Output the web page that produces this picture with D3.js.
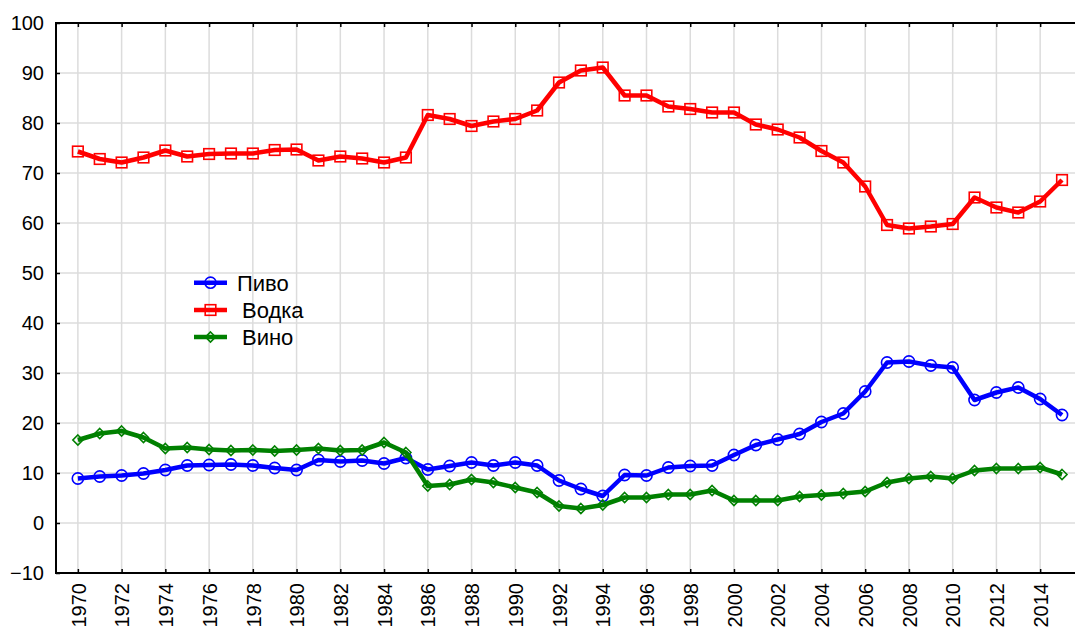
<!DOCTYPE html>
<html><head><meta charset="utf-8">
<script src="https://d3js.org/d3.v7.min.js"></script>
<style>body{margin:0;background:#fff}svg{display:block}text{font-family:"Liberation Sans",Arial,sans-serif}</style>
</head><body><svg id="c" width="1075" height="630"></svg>
<script>
const years = d3.range(1970, 2016);
const beer = [8.9,9.3,9.5,9.9,10.6,11.5,11.6,11.7,11.5,11.0,10.6,12.6,12.3,12.5,11.9,13.0,10.7,11.4,12.1,11.5,12.1,11.5,8.5,6.8,5.4,9.6,9.5,11.1,11.4,11.5,13.6,15.6,16.7,17.8,20.2,21.9,26.3,32.1,32.3,31.5,31.1,24.6,26.1,27.1,24.8,21.6];
const vodka = [74.3,72.8,72.1,73.1,74.5,73.3,73.8,73.9,73.9,74.6,74.7,72.5,73.3,72.9,72.1,73.1,81.6,80.8,79.4,80.3,80.8,82.5,88.1,90.5,91.1,85.5,85.5,83.3,82.8,82.1,82.1,79.7,78.7,77.1,74.4,72.1,67.3,59.6,58.9,59.3,59.8,65.1,63.1,62.1,64.3,68.6];
const wine = [16.6,17.9,18.4,17.1,14.9,15.1,14.7,14.5,14.6,14.4,14.6,14.9,14.5,14.6,16.1,14.1,7.4,7.7,8.7,8.1,7.1,6.1,3.4,2.9,3.6,5.1,5.1,5.7,5.7,6.5,4.5,4.5,4.5,5.3,5.6,5.9,6.3,8.1,8.9,9.3,8.9,10.5,10.9,10.9,11.1,9.7];
const seriesNames = ["Пиво","Водка","Вино"];
const yTicks = d3.range(-10, 101, 10);
const xTicks = d3.range(1970, 2015, 2);

const svg = d3.select("#c");
const mLeft = 56, mTop = 23, mBottom = 573, mRight = 1080;
const x = d3.scaleLinear().domain([1969, 2016]).range([mLeft, mLeft + 47*21.87]);
const y = d3.scaleLinear().domain([-10, 100]).range([mBottom, mTop]);

// grid
svg.append("g").selectAll("line").data(yTicks.filter(v=>v>-10&&v<100)).join("line")
  .attr("x1", mLeft).attr("x2", mRight).attr("y1", d=>y(d)).attr("y2", d=>y(d))
  .attr("stroke", "#dcdcdc").attr("stroke-width", 1.5);
svg.append("g").selectAll("line").data(xTicks).join("line")
  .attr("y1", mTop).attr("y2", mBottom).attr("x1", d=>x(d)).attr("x2", d=>x(d))
  .attr("stroke", "#dcdcdc").attr("stroke-width", 1.5);

// axes
const yAxis = d3.axisLeft(y).tickValues(yTicks).tickSize(-4).tickPadding(12).tickFormat(d3.format("d"));
const gy = svg.append("g").attr("transform", `translate(${mLeft},0)`).call(yAxis);
gy.select(".domain").remove();
gy.selectAll("line").attr("stroke", "#000").attr("stroke-width", 1.5);
gy.selectAll("text").attr("font-size", 20).attr("fill", "#000").style("font-family", '"Liberation Sans",Arial,sans-serif');

const xAxis = d3.axisBottom(x).tickValues(xTicks).tickSize(-4).tickFormat(d3.format("d"));
const gx = svg.append("g").attr("transform", `translate(0,${mBottom})`).call(xAxis);
gx.select(".domain").remove();
gx.selectAll("line").attr("stroke", "#000").attr("stroke-width", 1.5);
gx.selectAll("text").attr("font-size", 20).attr("fill", "#000")
  .style("font-family", '"Liberation Sans",Arial,sans-serif')
  .attr("text-anchor", "end").attr("transform", "rotate(-90)")
  .attr("x", -10).attr("y", 0).attr("dy", "0.36em");

const xTop = d3.axisTop(x).tickValues(xTicks).tickSize(-4).tickFormat("");
const gt = svg.append("g").attr("transform", `translate(0,${mTop})`).call(xTop);
gt.select(".domain").remove();
gt.selectAll("line").attr("stroke", "#000").attr("stroke-width", 1.5);

// frame
svg.append("line").attr("x1", mLeft).attr("x2", mLeft).attr("y1", mTop-1).attr("y2", mBottom+1).attr("stroke","#000").attr("stroke-width",2);
svg.append("line").attr("x1", mLeft-1).attr("x2", mRight).attr("y1", mTop).attr("y2", mTop).attr("stroke","#000").attr("stroke-width",2);
svg.append("line").attr("x1", mLeft-1).attr("x2", mRight).attr("y1", mBottom).attr("y2", mBottom).attr("stroke","#000").attr("stroke-width",2);

const colors = ["#0000ff", "#ff0000", "#008000"];
const datasets = [beer, vodka, wine];
const line = d3.line().x((d,i)=>x(years[i])).y(d=>y(d));

function marker(g, type, cx, cy, color) {
  if (type === 0) g.append("circle").attr("cx", cx).attr("cy", cy).attr("r", 5.6).attr("fill","none").attr("stroke", color).attr("stroke-width", 1.6);
  else if (type === 1) g.append("rect").attr("x", cx-5.3).attr("y", cy-5.3).attr("width", 10.6).attr("height", 10.6).attr("fill","none").attr("stroke", color).attr("stroke-width", 1.6);
  else g.append("path").attr("d", `M${cx},${cy-5}L${cx+5},${cy}L${cx},${cy+5}L${cx-5},${cy}Z`).attr("fill","none").attr("stroke", color).attr("stroke-width", 1.6);
}

datasets.forEach((data, k) => {
  const g = svg.append("g");
  g.append("path").datum(data).attr("d", line).attr("fill","none").attr("stroke", colors[k]).attr("stroke-width", 4.5).attr("stroke-linejoin","round");
  data.forEach((v,i) => marker(g, k, x(years[i]), y(v), colors[k]));
});

// legend
const legY = [282.7, 310, 337];
const legTX = [237, 242, 242];
seriesNames.forEach((name, k) => {
  const g = svg.append("g");
  g.append("line").attr("x1", 194).attr("x2", 227).attr("y1", legY[k]).attr("y2", legY[k]).attr("stroke", colors[k]).attr("stroke-width", 4.5);
  marker(g, k, 210.5, legY[k], colors[k]);
  g.append("text").attr("x", legTX[k]).attr("y", legY[k]).attr("dy", "0.36em").attr("font-size", 22).attr("fill", "#000").text(name);
});
</script></body></html>
